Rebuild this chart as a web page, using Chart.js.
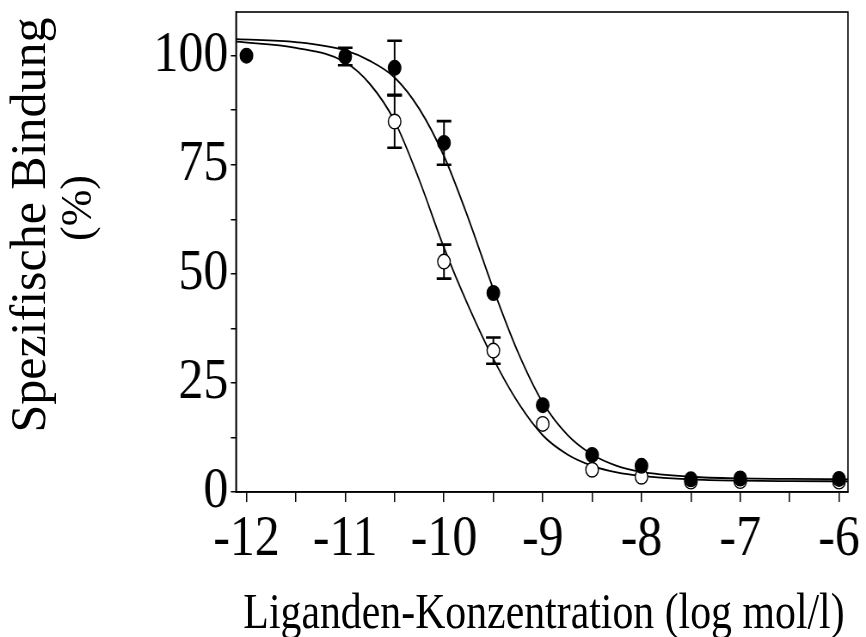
<!DOCTYPE html>
<html>
<head>
<meta charset="utf-8">
<script src="https://cdn.jsdelivr.net/npm/chart.js@4.4.1/dist/chart.umd.min.js"></script>
<style>
  html, body { margin: 0; padding: 0; background: #fff; }
  #wrap { position: relative; width: 866px; height: 637px; overflow: hidden; }
  /* plot is laid out wider and then narrowed, like the condensed lettering */
  #chart { position: absolute; left: 0; top: 0; transform: scaleX(0.86); transform-origin: 0 0; }
  .title { position: absolute; font-family: "Liberation Serif", serif; color: #000; white-space: nowrap; text-align: center; }
  #xTitle { left: 544px; top: 586px; font-size: 50px; line-height: 50px; transform: translateX(-50%) scaleX(0.836); }
  #yTitle1 { left: -271.9px; top: 200px; width: 600px; font-size: 50px; line-height: 50px; transform: rotate(-90deg); }
  #yTitle2 { left: -23px; top: 186px; width: 200px; font-size: 44px; line-height: 44px; transform: rotate(-90deg); }
</style>
</head>
<body>
<div id="wrap">
  <canvas id="chart" width="1007" height="637"></canvas>
  <div class="title" id="yTitle1">Spezifische Bindung</div>
  <div class="title" id="yTitle2">(%)</div>
  <div class="title" id="xTitle">Liganden-Konzentration (log mol/l)</div>
</div>
<script>
// Messpunkte: log Konzentration, Mittelwert, Fehler (0 = kein Balken)
const doseLog = [-12, -11, -10.5, -10, -9.5, -9, -8.5, -8, -7.5, -7, -6];
const filledMean = [100, 99.8, 97.2, 80, 45.6, 19.9, 8.5, 6.0, 2.9, 3.1, 3.0];
const filledErr = [0, 2, 6.2, 5, 0, 0, 0, 0, 0, 0, 0];
const openMean = [null, null, 84.9, 52.8, 32.4, 15.6, 5.1, 3.5, 2.4, 2.5, 2.4];
const openErr = [0, 0, 6, 3.9, 3, 0, 0, 0, 0, 0, 0];

const curveLog = [-12.1, -11.5, -11, -10.75, -10.5, -10.25, -10, -9.75, -9.5, -9.25, -9, -8.75, -8.5, -8.25, -8, -7.5, -7, -6.5, -5.91];
const filledCurve = [103.8, 103.1, 101.2, 98.8, 95, 87.8, 77, 62.5, 46.5, 32, 20.5, 13.1, 8.6, 6.0, 4.6, 3.5, 3.1, 3.0, 2.9];
const openCurve = [103.2, 101.8, 98.5, 93.5, 85, 71.5, 56, 42.5, 30.5, 20.5, 13, 8.6, 6, 4.5, 3.7, 2.9, 2.6, 2.5, 2.45];

// Achsen
const xTicks = [-12, -11.5, -11, -10.5, -10, -9.5, -9, -8.5, -8, -7.5, -7, -6.5, -6];
const xLabels = [-12, -11, -10, -9, -8, -7, -6];
const yTicks = [0, 12.5, 25, 37.5, 50, 62.5, 75, 87.5, 100];
const yLabels = [0, 25, 50, 75, 100];

const toPoints = (xs, ys) => xs.map((x, i) => ({ x, y: ys[i] })).filter(p => p.y !== null);

// Fehlerbalken mit Querstrichen, vor den Punkten gezeichnet
const errorBars = {
    id: "errorBars",
    beforeDatasetsDraw(chart) {
        const { ctx, scales: { x, y } } = chart;
        ctx.save();
        ctx.strokeStyle = "#000";
        chart.data.datasets.forEach(ds => {
            if (!ds.errors) return;
            ds.data.forEach((p, i) => {
                const e = ds.errors[i];
                if (!e) return;
                const px = x.getPixelForValue(p.x);
                const top = y.getPixelForValue(p.y + e);
                const bot = y.getPixelForValue(p.y - e);
                ctx.lineWidth = 2;
                ctx.beginPath();
                ctx.moveTo(px, top);
                ctx.lineTo(px, bot);
                ctx.stroke();
                ctx.lineWidth = 2.6;
                ctx.beginPath();
                ctx.moveTo(px - 8.5, top); ctx.lineTo(px + 8.5, top);
                ctx.moveTo(px - 8.5, bot); ctx.lineTo(px + 8.5, bot);
                ctx.stroke();
            });
        });
        ctx.restore();
    }
};

// Rahmen um die Zeichenfläche
const frame = {
    id: "frame",
    afterDraw(chart) {
        const { ctx, chartArea: a } = chart;
        ctx.save();
        ctx.strokeStyle = "#000";
        ctx.lineWidth = 1.6;
        ctx.strokeRect(a.left, a.top, a.right - a.left, a.bottom - a.top);
        ctx.restore();
    }
};

// keine Extra-Ränder für überstehende Beschriftungen
const noLabelPadding = s => {
    s.paddingTop = 0; s.paddingBottom = 0;
    s.paddingLeft = 0; s.paddingRight = 0;
};

const tickFont = { family: "Liberation Serif", size: 58 };

new Chart(document.getElementById("chart").getContext("2d"), {
    type: "scatter",
    data: {
        datasets: [
            {
                label: "gefüllt",
                data: toPoints(doseLog, filledMean),
                errors: filledErr.filter((e, i) => filledMean[i] !== null),
                pointRadius: 7.3,
                pointBorderWidth: 1.4,
                pointBackgroundColor: "#000",
                pointBorderColor: "#000",
                order: 0
            },
            {
                label: "offen",
                data: toPoints(doseLog, openMean),
                errors: openErr.filter((e, i) => openMean[i] !== null),
                pointRadius: 7.3,
                pointBorderWidth: 1.4,
                pointBackgroundColor: "#fff",
                pointBorderColor: "#000",
                order: 1
            },
            {
                label: "Kurve gefüllt",
                data: toPoints(curveLog, filledCurve),
                showLine: true,
                pointRadius: 0,
                borderColor: "#000",
                borderWidth: 1.8,
                cubicInterpolationMode: "monotone",
                order: 2
            },
            {
                label: "Kurve offen",
                data: toPoints(curveLog, openCurve),
                showLine: true,
                pointRadius: 0,
                borderColor: "#000",
                borderWidth: 1.8,
                cubicInterpolationMode: "monotone",
                order: 2
            }
        ]
    },
    options: {
        responsive: false,
        devicePixelRatio: 1,
        animation: false,
        events: [],
        layout: { autoPadding: false, padding: { left: 0, top: 12, right: 21, bottom: 0 } },
        plugins: { legend: { display: false }, tooltip: { enabled: false } },
        scales: {
            x: {
                type: "linear",
                min: -12.106,
                max: -5.909,
                afterBuildTicks: s => { s.ticks = xTicks.map(v => ({ value: v })); },
                afterFit: s => { s.height = 145; noLabelPadding(s); },
                grid: { drawOnChartArea: false, color: "#000", tickLength: 10, lineWidth: 1.5 },
                border: { display: true, color: "#000", width: 1.6 },
                ticks: {
                    autoSkip: false,
                    maxRotation: 0,
                    padding: 3,
                    color: "#000",
                    font: tickFont,
                    callback: v => xLabels.includes(v) ? String(v) : ""
                }
            },
            y: {
                min: 0,
                max: 110,
                afterBuildTicks: s => { s.ticks = yTicks.map(v => ({ value: v })); },
                afterFit: s => { s.width = 274.4; noLabelPadding(s); },
                grid: { drawOnChartArea: false, color: "#000", tickLength: 6, lineWidth: 1.5 },
                border: { display: true, color: "#000", width: 1.6 },
                ticks: {
                    autoSkip: false,
                    padding: 3,
                    color: "#000",
                    font: tickFont,
                    callback: v => yLabels.includes(v) ? String(v) : ""
                }
            }
        }
    },
    plugins: [errorBars, frame]
});
</script>
</body>
</html>
